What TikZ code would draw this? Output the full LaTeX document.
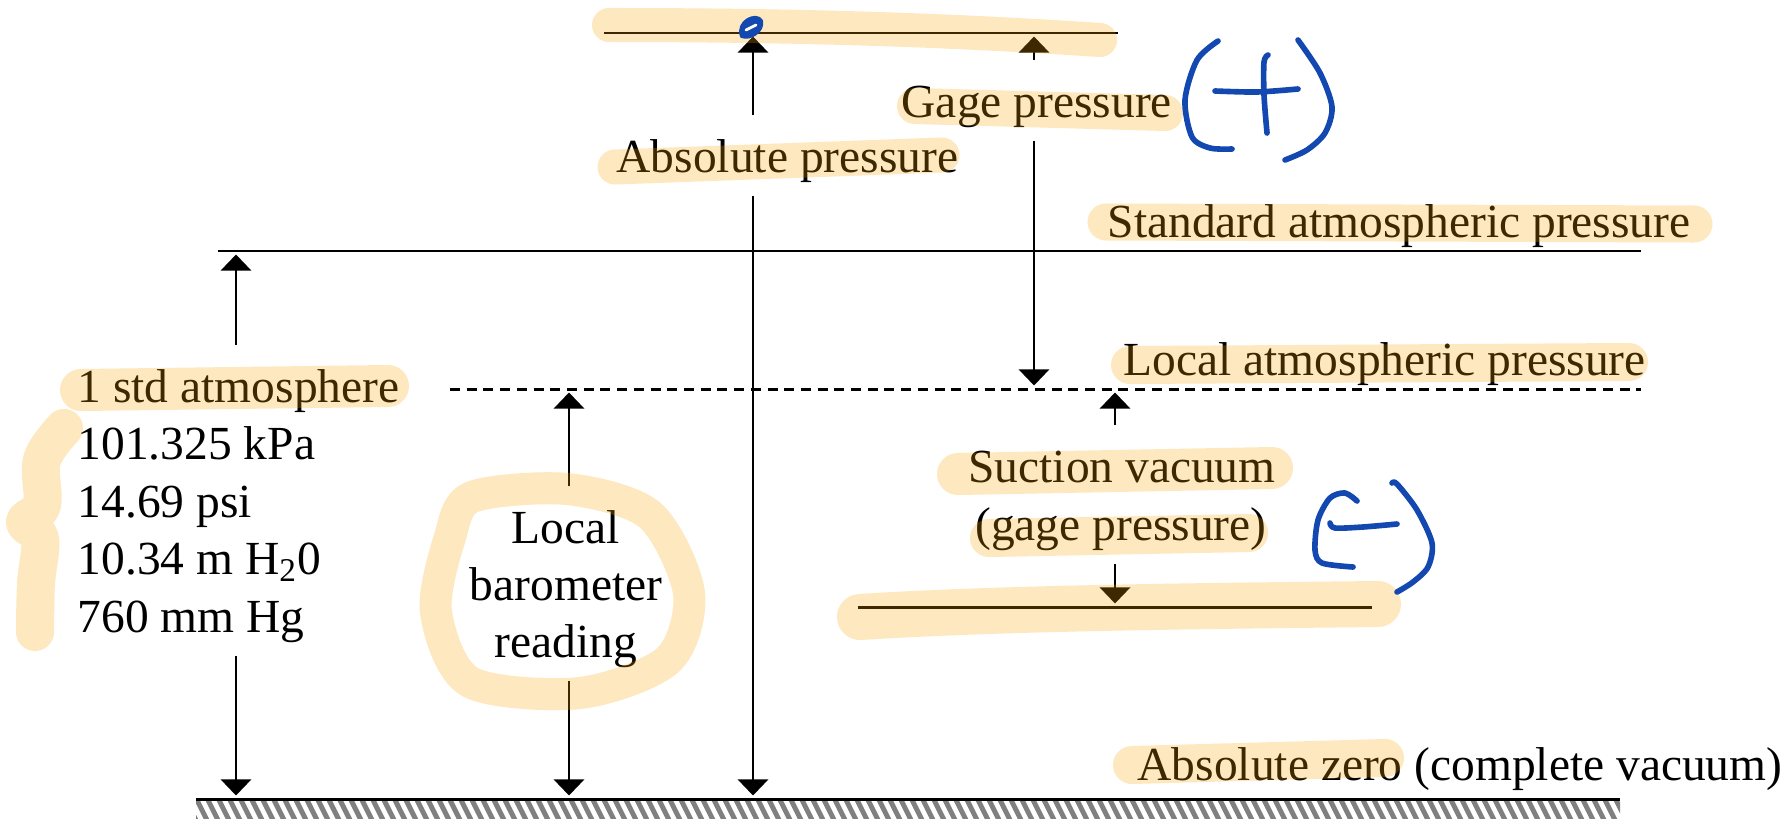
\documentclass[tikz,border=0pt]{standalone}
\usepackage{fontspec}
\setmainfont{Liberation Serif}
\usetikzlibrary{arrows.meta}

\definecolor{hlorange}{RGB}{247,163,3}
\definecolor{penblue}{RGB}{18,72,176}
\definecolor{hatchgray}{RGB}{128,128,128}

\begin{document}
\begin{tikzpicture}[x=0.01cm, y=-0.01cm,
  lbl/.style={font=\fontsize{13.5}{16}\selectfont, inner sep=0pt,
              text height=0.56cm, text depth=0.23cm},
  level/.style={line width=0.85pt},
  arr/.style={line width=0.8pt, -{Triangle[width=0.3cm, length=0.16cm]}, shorten >=1pt},
  hl/.style={draw=hlorange, opacity=0.25, line cap=round, line join=round},
  pen/.style={draw=penblue, line width=1.6pt, line cap=round, line join=round}
]
  \useasboundingbox (0,0) rectangle (1791,818);

  % pressure levels
  \coordinate (topL)  at (604,33);  \coordinate (topR)  at (1118,33);
  \coordinate (stdL)  at (218,251); \coordinate (stdR)  at (1641,251);
  \coordinate (locL)  at (450,389); \coordinate (locR)  at (1641,389);
  \coordinate (sucL)  at (858,607); \coordinate (sucR)  at (1372,607);
  \coordinate (zeroL) at (196,799); \coordinate (zeroR) at (1620,799);

  % arrow columns
  \coordinate (cStd)  at (236,0);
  \coordinate (cBaro) at (569,0);
  \coordinate (cAbs)  at (753,0);
  \coordinate (cGage) at (1034,0);
  \coordinate (cSuct) at (1115,0);

  \draw[level] (topL) -- (topR);
  \draw[level] (stdL) -- (stdR);
  \draw[level, dash pattern=on 0.1cm off 0.067cm] (locL) -- (locR);
  \draw[level] (sucL) -- (sucR);
  \draw[level] (zeroL) -- (zeroR);

  % ground hatching
  \begin{scope}
    \clip (196,801.5) rectangle (1620,818);
    \foreach \x in {186,197,...,1625}
      \draw[hatchgray, line width=1.4pt] (\x,800) -- (\x+10,820);
  \end{scope}

  % labels
  \node[lbl, anchor=base west] (absp)  at (616,172)  {Absolute pressure};
  \node[lbl, anchor=base west] (gage)  at (901,117)  {Gage pressure};
  \node[lbl, anchor=base west] (stdp)  at (1107,237) {Standard atmospheric pressure};
  \node[lbl, anchor=base west] (locp)  at (1123,375) {Local atmospheric pressure};
  \node[lbl, anchor=base west] (zerop) at (1137,780) {Absolute zero (complete vacuum)};

  \node[lbl, anchor=base west] (atm)   at (77,402) {1 std atmosphere};
  \node[lbl, anchor=base west] (kpa)   at (77,459) {101.325 kPa};
  \node[lbl, anchor=base west] (psi)   at (77,517) {14.69 psi};
  \node[lbl, anchor=base west] (water) at (77,574) {10.34 m H\textsubscript{2}0};
  \node[lbl, anchor=base west] (hg)    at (77,632) {760 mm Hg};

  \node[lbl, anchor=base] (baro1) at (566,543) {Local};
  \node[lbl, anchor=base] (baro2) at (566,600) {barometer};
  \node[lbl, anchor=base] (baro3) at (566,657) {reading};

  \node[lbl, anchor=base] (suc1) at (1122,482) {Suction vacuum};
  \node[lbl, anchor=base] (suc2) at (1121,540) {(gage pressure)};

  % arrows
  \draw[arr] (absp.north -| cAbs) -- (cAbs |- topL);
  \draw[arr] (absp.south -| cAbs) -- (cAbs |- zeroL);
  \draw[arr] (gage.north -| cGage) -- (cGage |- topL);
  \draw[arr] (gage.south -| cGage) -- (cGage |- locL);
  \draw[arr] (atm.north -| cStd) -- (cStd |- stdL);
  \draw[arr] (hg.south -| cStd) -- (cStd |- zeroL);
  \draw[arr] (baro1.north -| cBaro) -- (cBaro |- locL);
  \draw[arr] (baro3.south -| cBaro) -- (cBaro |- zeroL);
  \draw[arr] (suc1.north -| cSuct) -- (cSuct |- locL);
  \draw[arr] (suc2.south -| cSuct) -- (cSuct |- sucL);

  % highlighter marks
  \draw[hl, line width=0.34cm] (609,25) .. controls (800,25) and (950,30) .. (1100,40);
  \draw[hl, line width=0.35cm] (615,167) -- (942,155);
  \draw[hl, line width=0.36cm] (915,106) -- (1165,113);
  \draw[hl, line width=0.37cm] (1106,222) -- (1694,224);
  \draw[hl, line width=0.38cm] (1130,365) -- (1629,362);
  \draw[hl, line width=0.42cm] (81,390) -- (388,386);
  \draw[hl, line width=0.38cm] plot[smooth, tension=0.6] coordinates
    {(64,428) (42,460) (42,505) (25,522) (40,539) (36,584) (35,632)};
  \draw[hl, line width=0.32cm] plot[smooth cycle] coordinates
    {(472,497) (567,489) (650,515) (689,593) (668,660) (580,693) (470,682) (436,612) (450,537)};
  \draw[hl, line width=0.42cm] (958,474) -- (1272,468);
  \draw[hl, line width=0.38cm] (989,538) -- (1249,533);
  \draw[hl, line width=0.46cm] (860,617) .. controls (1000,608) and (1200,606) .. (1378,604);
  \draw[hl, line width=0.38cm] (1132,765) -- (1385,758);

  % pen marks
  \draw[pen] plot[smooth] coordinates {(1218,41) (1197,60) (1185,100) (1192,137) (1210,148) (1232,149)};
  \draw[pen] plot[smooth] coordinates {(1268,55) (1264,62) (1264,95) (1267,133)};
  \draw[pen] plot[smooth] coordinates {(1215,91) (1257,92) (1298,89)};
  \draw[pen] plot[smooth] coordinates {(1298,40) (1320,73) (1332,107) (1325,133) (1307,150) (1285,160)};

  \draw[pen] plot[smooth] coordinates {(1357,501) (1345,493) (1330,498) (1318,520) (1315,550) (1322,563) (1353,567)};
  \draw[pen] plot[smooth] coordinates {(1330,523) (1335,528) (1363,527) (1397,524)};
  \draw[pen] plot[smooth] coordinates {(1392,483) (1397,484) (1417,510) (1432,543) (1428,567) (1413,582) (1397,592)};

  \draw[pen, fill=penblue, line width=1.2pt] (742,36) .. controls (737,22) and (756,13) .. (761,21)
    .. controls (763,31) and (750,39) .. (742,36);
  \draw[draw=white, line width=0.8pt, line cap=round] (746,30) -- (756,25);
\end{tikzpicture}
\end{document}
